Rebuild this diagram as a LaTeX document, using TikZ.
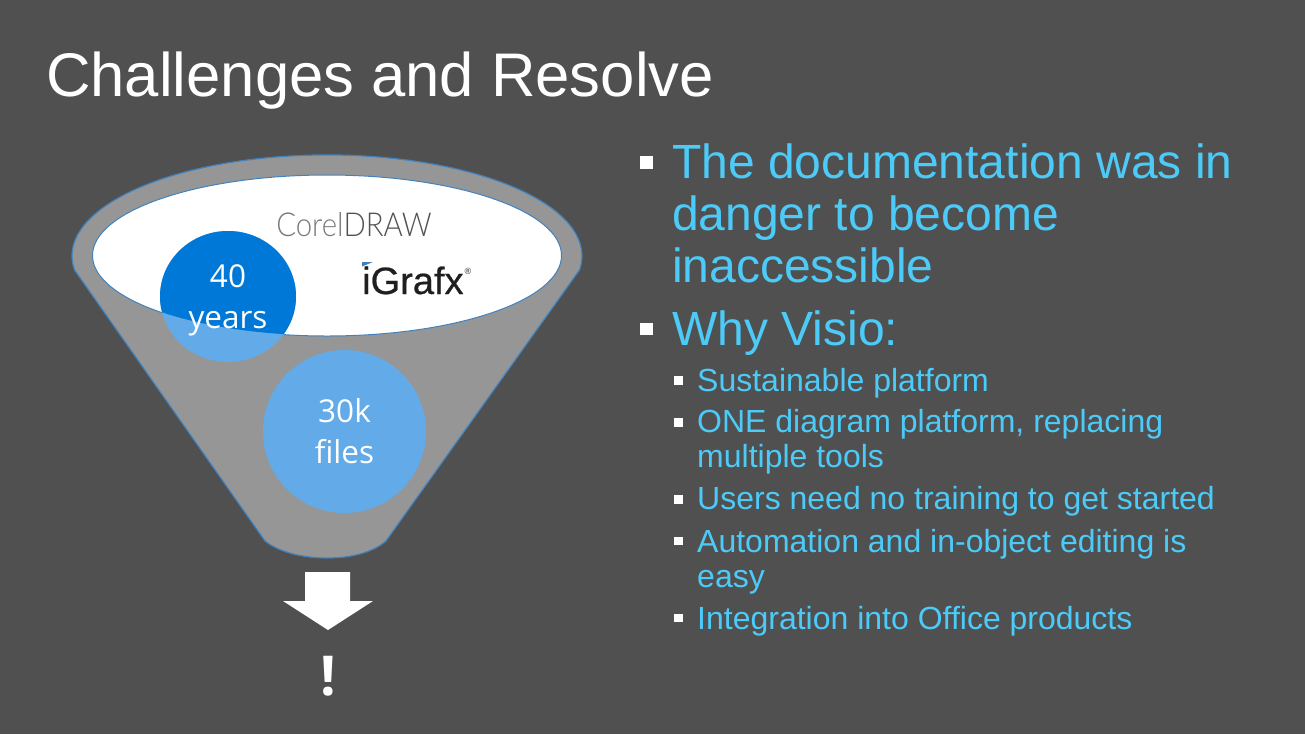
\documentclass[tikz,border=0pt]{standalone}
\usepackage{fontspec}
\usepackage{graphicx}
\setmainfont{Liberation Sans}
\newfontfamily\segoe{Open Sans}
\newfontfamily\corel{Lato Light}
\newfontfamily\igr[FakeBold=0.6]{Liberation Sans}
\definecolor{bgc}{HTML}{505050}
\definecolor{funnelc}{HTML}{969696}
\definecolor{edgec}{HTML}{3F82BE}
\definecolor{darkb}{HTML}{0078D7}
\definecolor{lightb}{HTML}{62ABE8}
\definecolor{txtb}{HTML}{4CCBF9}
\tikzset{
 x=1pt,y=-1pt,
 big/.style={anchor=base west,inner sep=0,align=left,text=txtb,font=\fontsize{48}{52}\selectfont},
 small/.style={anchor=base west,inner sep=0,align=left,text=txtb,font=\fontsize{32}{35}\selectfont},
 bullbig/.style={fill=white,inner sep=0,minimum size=12.5pt,rectangle},
 bullsmall/.style={fill=white,inner sep=0,minimum size=8.5pt,rectangle},
 circtext/.style={text=white,align=center,inner sep=0,font=\segoe\fontsize{31.5}{41}\selectfont},
}
\begin{document}
\begin{tikzpicture}
\path[use as bounding box,fill=bgc] (0,0) rectangle (1305,734);
\node[anchor=base west,inner sep=0,text=white,font=\fontsize{61.6}{62}\selectfont] (title) at (46,96) {Challenges and Resolve};
% funnel
\draw[edgec,line width=1.2pt,fill=funnelc] (74.5,270) arc[start angle=172,end angle=368,x radius=255,y radius=101] -- (386,541) .. controls (372,553) and (350,558) .. (327,558) .. controls (305,558) and (280,553) .. (265,541) -- cycle;
\draw[edgec,line width=1pt,fill=white] (327,255.5) ellipse[x radius=234.5,y radius=80.5];
\fill[lightb] (228,296.5) ellipse[x radius=68,y radius=65.5];
\begin{scope}
\clip (327,255.5) ellipse[x radius=234,y radius=80];
\fill[darkb] (228,296.5) ellipse[x radius=68,y radius=65.5];
\end{scope}
\node[circtext] (forty) at (228,300) {40\\years};
\node[circle,fill=lightb,minimum size=163pt,inner sep=0] (thirty) at (344.5,431.5) {};
\node[circtext] (thirtyt) at (344.5,431) {30k\\files};
% logos
\node[anchor=base,inner sep=0,font=\corel\fontsize{33}{33}\selectfont] (coreldraw) at (354,236) {\scalebox{0.89}[1]{\textcolor{black!52}{Corel}\textcolor{black!68}{DRAW}}};
\node[anchor=base west,inner sep=0,text=black!88,font=\igr\fontsize{38}{38}\selectfont] (igrafx) at (362,294) {iGrafx};
\node[inner sep=0,text=black!65,font=\bfseries\fontsize{9}{9}\selectfont] (reg) at (468,271.5) {®};
\fill[edgec] (362,262) -- (373,262) -- (362,266.5) -- cycle;
% arrow
\fill[white] (305,572) -- (350,572) -- (350,601) -- (373,601) -- (328,630) -- (283,601) -- (305,601) -- cycle;
\node[anchor=base,inner sep=0,text=white,font=\segoe\bfseries\fontsize{55}{55}\selectfont] (bang) at (328,695) {!};
% text
\node[bullbig] (b1) at (646.5,162.5) {};
\node[big] (t1) at (672,282) {The documentation was in\\danger to become\\inaccessible};
\node[bullbig] (b2) at (646.5,329) {};
\node[big] (t2) at (672,345) {Why Visio:};
\node[bullsmall] (s1) at (678.7,380.5) {};
\node[small] (u1) at (697,391) {Sustainable platform};
\node[bullsmall] (s2) at (678.7,422.5) {};
\node[small] (u2) at (697,467) {ONE diagram platform, replacing\\multiple tools};
\node[bullsmall] (s3) at (678.7,499.5) {};
\node[small] (u3) at (697,509) {Users need no training to get started};
\node[bullsmall] (s4) at (678.7,541) {};
\node[small] (u4) at (697,587) {Automation and in-object editing is\\easy};
\node[bullsmall] (s5) at (678.7,618) {};
\node[small] (u5) at (697,629) {Integration into Office products};
\end{tikzpicture}
\end{document}
